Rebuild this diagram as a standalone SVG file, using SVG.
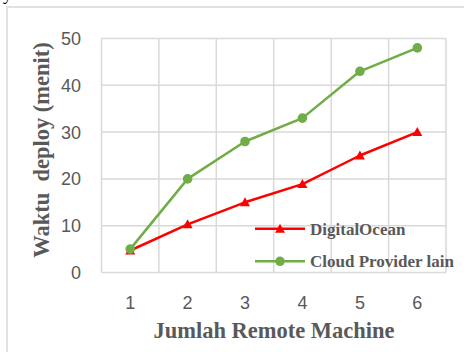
<svg xmlns="http://www.w3.org/2000/svg" width="464" height="352" viewBox="0 0 464 352">
<defs>
<style>
.grid{stroke:#d9d9d9;stroke-width:1.5;fill:none}
.tick{font-family:"Liberation Sans",Arial,sans-serif;font-size:18px;fill:#595959}
.title{font-family:"Liberation Serif","Times New Roman",serif;font-weight:bold;fill:#595959}
.red{stroke:#ff0000;stroke-width:2.5;fill:none;stroke-linejoin:round}
.green{stroke:#70ad47;stroke-width:2.5;fill:none;stroke-linejoin:round}
.tri{fill:#ff0000}
.dot{fill:#70ad47}
</style>
<marker id="m-tri" markerWidth="12" markerHeight="12" refX="6" refY="6" markerUnits="userSpaceOnUse"><polygon points="1,10 11,10 6,1" fill="#ff0000"/></marker>
<marker id="m-dot" markerWidth="12" markerHeight="12" refX="6" refY="6" markerUnits="userSpaceOnUse"><circle cx="6" cy="6" r="4.8" fill="#70ad47"/></marker>
</defs>
<rect width="464" height="352" fill="#ffffff"/>
<text x="3" y="0" font-family="Liberation Serif,serif" font-size="18" fill="#000">y</text>
<rect x="7" y="7" width="470" height="360" fill="none" stroke="#d9d9d9" stroke-width="1.5"/>
<g id="grid">
<line class="grid" x1="101.5" y1="38.5" x2="446" y2="38.5"/>
<line class="grid" x1="101.5" y1="85.3" x2="446" y2="85.3"/>
<line class="grid" x1="101.5" y1="132.1" x2="446" y2="132.1"/>
<line class="grid" x1="101.5" y1="178.9" x2="446" y2="178.9"/>
<line class="grid" x1="101.5" y1="225.7" x2="446" y2="225.7"/>
<line class="grid" x1="101.5" y1="272.5" x2="446" y2="272.5"/>
<line class="grid" x1="101.5" y1="38.5" x2="101.5" y2="272.5"/>
<line class="grid" x1="158.9" y1="38.5" x2="158.9" y2="272.5"/>
<line class="grid" x1="216.3" y1="38.5" x2="216.3" y2="272.5"/>
<line class="grid" x1="273.7" y1="38.5" x2="273.7" y2="272.5"/>
<line class="grid" x1="331.2" y1="38.5" x2="331.2" y2="272.5"/>
<line class="grid" x1="388.6" y1="38.5" x2="388.6" y2="272.5"/>
<line class="grid" x1="446" y1="38.5" x2="446" y2="272.5"/>
</g>
<g id="y-ticks" class="tick" text-anchor="end">
<text x="81" y="45">50</text>
<text x="81" y="91.8">40</text>
<text x="81" y="138.6">30</text>
<text x="81" y="185.4">20</text>
<text x="81" y="232.2">10</text>
<text x="81" y="279">0</text>
</g>
<g id="x-ticks" class="tick" text-anchor="middle">
<text x="130.2" y="309">1</text>
<text x="187.6" y="309">2</text>
<text x="245" y="309">3</text>
<text x="302.4" y="309">4</text>
<text x="359.9" y="309">5</text>
<text x="417.3" y="309">6</text>
</g>
<g id="connectors">
<polyline id="series-digitalocean" class="red" points="130.2,250.5 187.6,224.3 245,202.3 302.4,184.1 359.9,155.5 417.3,132.1" marker-start="url(#m-tri)" marker-mid="url(#m-tri)" marker-end="url(#m-tri)"/>
<polyline id="series-cloud" class="green" points="130.2,249.1 187.6,178.9 245,141.5 302.4,118.1 359.9,71.3 417.3,47.9" marker-start="url(#m-dot)" marker-mid="url(#m-dot)" marker-end="url(#m-dot)"/>
</g>
<g id="legend">
<g id="legend-digitalocean">
<line class="red" x1="255" y1="228.7" x2="305" y2="228.7"/>
<polygon class="tri" points="275,232.7 285,232.7 280,223.7"/>
<text class="title" x="310" y="234.5" font-size="17">DigitalOcean</text>
</g>
<g id="legend-cloud">
<line class="green" x1="255" y1="261.3" x2="305" y2="261.3"/>
<circle class="dot" cx="280" cy="261.3" r="4.8"/>
<text class="title" x="310" y="267" font-size="17">Cloud Provider lain</text>
</g>
</g>
<text id="x-title" class="title" x="274" y="338" font-size="22.5" text-anchor="middle">Jumlah Remote Machine</text>
<text id="y-title" class="title" transform="translate(48.5,150) rotate(-90)" font-size="22.5" text-anchor="middle" style="white-space:pre">Waktu  deploy (menit)</text>
</svg>
